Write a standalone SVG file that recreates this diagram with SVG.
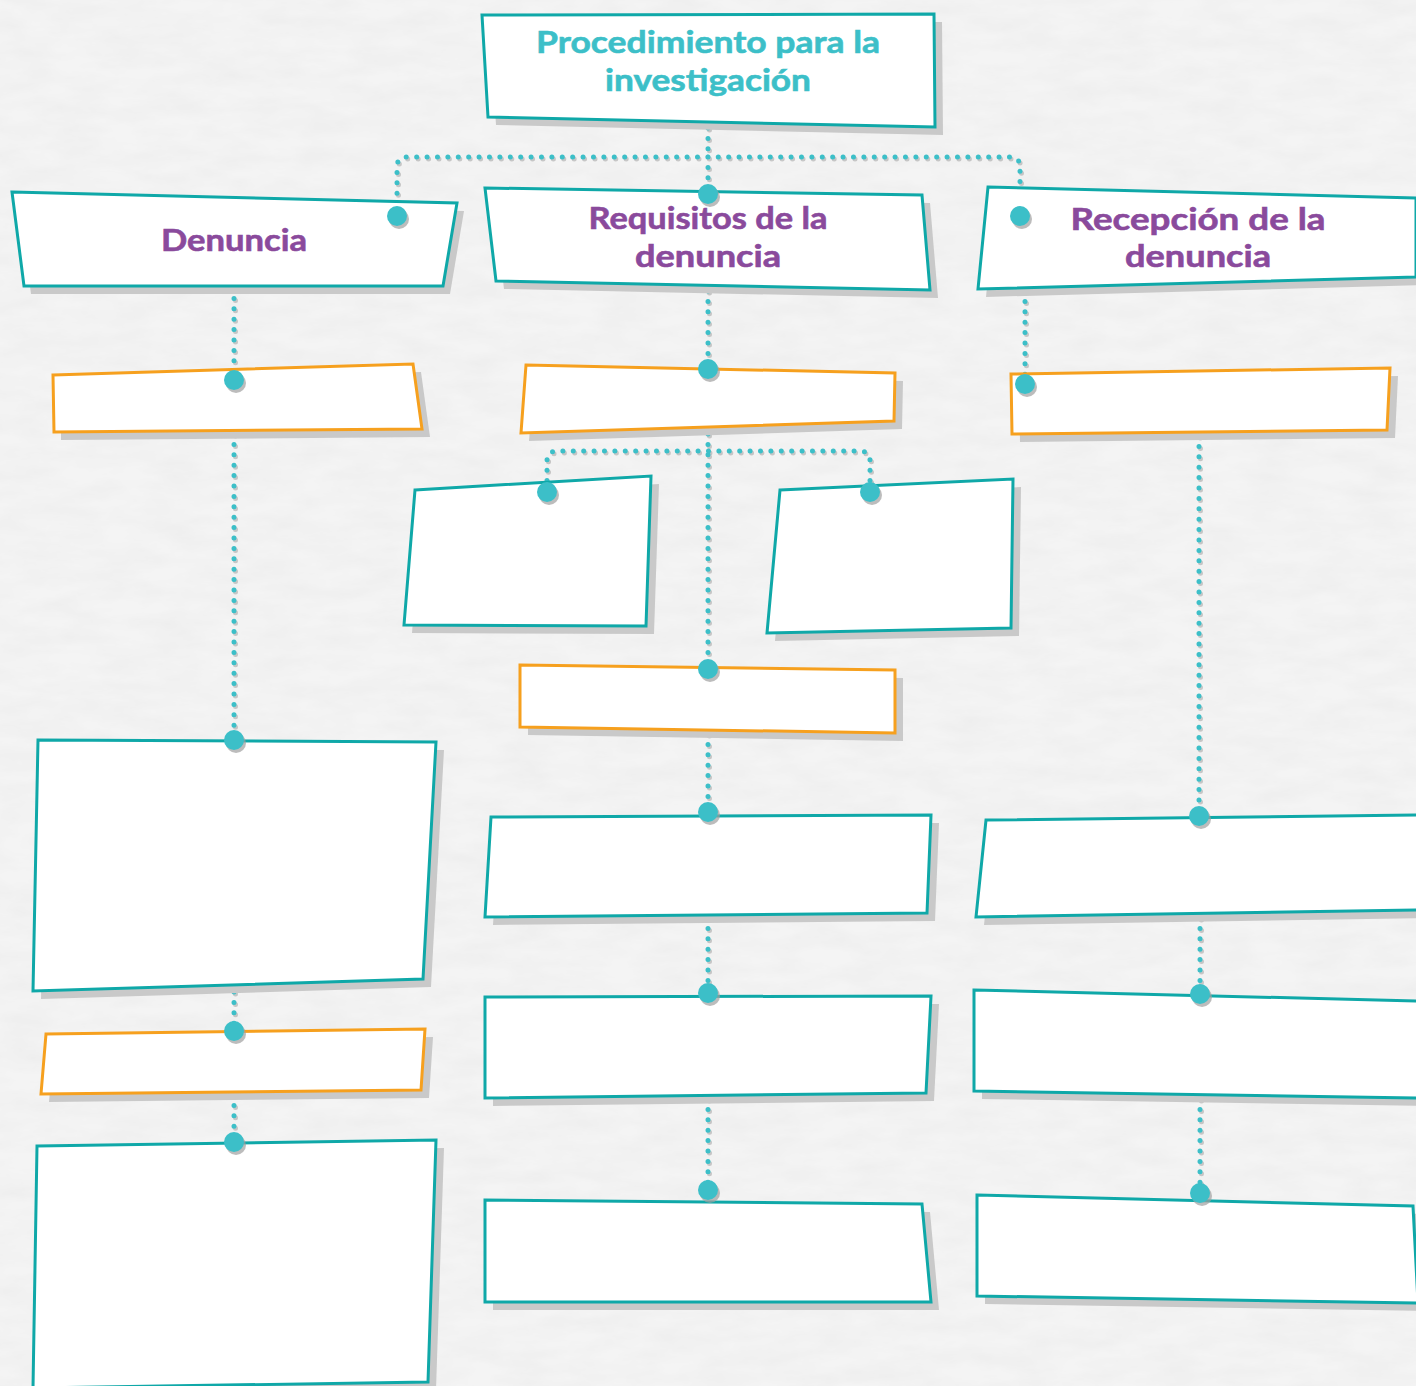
<svg xmlns="http://www.w3.org/2000/svg" width="1416" height="1386" viewBox="0 0 1416 1386">
  <defs>
    <filter id="paper" x="0" y="0" width="100%" height="100%">
      <feTurbulence type="fractalNoise" baseFrequency="0.02 0.06" numOctaves="4" seed="7" result="n"/>
      <feColorMatrix in="n" type="matrix" values="0 0 0 0 0.6  0 0 0 0 0.6  0 0 0 0 0.6  0 0 0 0.22 -0.06"/>
    </filter>
    <style>
      .bg { fill: #f4f4f4; }
      .shadow { fill: #c9c9c9; }
      .card { fill: #ffffff; stroke: #0fa8a8; stroke-width: 3; stroke-linejoin: miter; }
      .note { fill: #ffffff; stroke: #f6a01e; stroke-width: 3; stroke-linejoin: miter; }
      .title { font-family: Lato, "Open Sans", "Liberation Sans", sans-serif; font-weight: 700; font-size: 31px; fill: #3cbfc8; text-anchor: middle; stroke: #3cbfc8; stroke-width: 0.6; }
      .head { font-family: Lato, "Open Sans", "Liberation Sans", sans-serif; font-weight: 700; font-size: 31px; fill: #8a4a9c; text-anchor: middle; stroke: #8a4a9c; stroke-width: 0.6; }
      .dotline { fill: none; stroke: #3cbfc8; stroke-width: 5; stroke-linecap: round; stroke-dasharray: 0 10.4; }
      .dotshadow { fill: none; stroke: #a9a9a9; stroke-width: 5; stroke-linecap: round; stroke-dasharray: 0 10.4; opacity: 0.6; }
      .pin { fill: #3cbfc8; }
      .pinshadow { fill: #9f9f9f; opacity: 0.7; }
    </style>
  </defs>

  <rect class="bg" x="0" y="0" width="1416" height="1386"/>
  <rect x="0" y="0" width="1416" height="1386" filter="url(#paper)"/>

  <g id="connectors">
    <g transform="translate(1.5,2)">
      <path class="dotshadow" d="M708,128 V157 M397,214 V167 Q397,157 407,157 H1010 Q1020,157 1020,167 V214 M708,157 V192"/>
      <path class="dotshadow" d="M234,288 V378 M234,434 V738 M234,992 V1030 M234,1095 V1141"/>
      <path class="dotshadow" d="M708,291 V368 M708,434 V668 M547,491 V461 Q547,451 557,451 H860 Q870,451 870,461 V491 M708,734 V811 M708,918 V992 M708,1099 V1189"/>
      <path class="dotshadow" d="M1025,291 V383 M1199,436 V815 M1200,918 V992 M1200,1099 V1192"/>
    </g>
    <path class="dotline" d="M708,128 V157 M397,214 V167 Q397,157 407,157 H1010 Q1020,157 1020,167 V214 M708,157 V192"/>
    <path class="dotline" d="M234,288 V378 M234,434 V738 M234,992 V1030 M234,1095 V1141"/>
    <path class="dotline" d="M708,291 V368 M708,434 V668 M547,491 V461 Q547,451 557,451 H860 Q870,451 870,461 V491 M708,734 V811 M708,918 V992 M708,1099 V1189"/>
    <path class="dotline" d="M1025,291 V383 M1199,436 V815 M1200,918 V992 M1200,1099 V1192"/>
  </g>

  <g id="node-title">
    <polygon class="shadow" points="490,23 942,22 943,135 496,125"/>
    <polygon class="card" points="482,15 934,14 935,127 488,117"/>
    <text class="title" x="708" y="53" textLength="344" lengthAdjust="spacingAndGlyphs">Procedimiento para la</text>
    <text class="title" x="708" y="91" textLength="206" lengthAdjust="spacingAndGlyphs">investigación</text>
  </g>

  <g id="node-denuncia">
    <polygon class="shadow" points="19,200 464,211 450,294 31,294"/>
    <polygon class="card" points="12,192 457,203 443,286 24,286"/>
    <text class="head" x="234" y="251" textLength="146" lengthAdjust="spacingAndGlyphs">Denuncia</text>
  </g>

  <g id="node-requisitos">
    <polygon class="shadow" points="493,196 930,203 938,298 504,289"/>
    <polygon class="card" points="485,188 922,195 930,290 496,281"/>
    <text class="head" x="708" y="229" textLength="239" lengthAdjust="spacingAndGlyphs">Requisitos de la</text>
    <text class="head" x="708" y="267" textLength="146" lengthAdjust="spacingAndGlyphs">denuncia</text>
  </g>

  <g id="node-recepcion">
    <polygon class="shadow" points="996,195 1424,206 1424,285 986,297"/>
    <polygon class="card" points="988,187 1416,198 1416,277 978,289"/>
    <text class="head" x="1198" y="230" textLength="255" lengthAdjust="spacingAndGlyphs">Recepción de la</text>
    <text class="head" x="1198" y="267" textLength="146" lengthAdjust="spacingAndGlyphs">denuncia</text>
  </g>

  <g id="node-left-1">
    <polygon class="shadow" points="61,383 421,372 430,437 61,440"/>
    <polygon class="note" points="53,375 413,364 422,429 54,432"/>
  </g>

  <g id="node-left-2">
    <polygon class="shadow" points="46,748 444,750 431,987 41,999"/>
    <polygon class="card" points="38,740 436,742 423,979 33,991"/>
  </g>

  <g id="node-left-3">
    <polygon class="shadow" points="54,1042 433,1037 429,1098 49,1102"/>
    <polygon class="note" points="46,1034 425,1029 421,1090 41,1094"/>
  </g>

  <g id="node-left-4">
    <polygon class="shadow" points="45,1154 444,1148 436,1390 41,1394"/>
    <polygon class="card" points="37,1146 436,1140 428,1382 33,1388"/>
  </g>

  <g id="node-mid-1">
    <polygon class="shadow" points="534,373 903,381 902,429 529,441"/>
    <polygon class="note" points="526,365 895,373 894,421 521,433"/>
  </g>

  <g id="node-mid-2a">
    <polygon class="shadow" points="423,498 659,484 654,634 412,633"/>
    <polygon class="card" points="415,490 651,476 646,626 404,625"/>
  </g>

  <g id="node-mid-2b">
    <polygon class="shadow" points="788,498 1021,487 1019,636 775,641"/>
    <polygon class="card" points="780,490 1013,479 1011,628 767,633"/>
  </g>

  <g id="node-mid-3">
    <polygon class="shadow" points="528,673 903,678 903,741 528,735"/>
    <polygon class="note" points="520,665 895,670 895,733 520,727"/>
  </g>

  <g id="node-mid-4">
    <polygon class="shadow" points="499,825 939,823 935,921 493,925"/>
    <polygon class="card" points="491,817 931,815 927,913 485,917"/>
  </g>

  <g id="node-mid-5">
    <polygon class="shadow" points="493,1005 939,1004 934,1101 493,1106"/>
    <polygon class="card" points="485,997 931,996 926,1093 485,1098"/>
  </g>

  <g id="node-mid-6">
    <polygon class="shadow" points="493,1208 930,1212 939,1310 493,1310"/>
    <polygon class="card" points="485,1200 922,1204 931,1302 485,1302"/>
  </g>

  <g id="node-right-1">
    <polygon class="shadow" points="1019,382 1398,376 1395,438 1020,442"/>
    <polygon class="note" points="1011,374 1390,368 1387,430 1012,434"/>
  </g>

  <g id="node-right-2">
    <polygon class="shadow" points="994,828 1424,823 1424,918 984,925"/>
    <polygon class="card" points="986,820 1418,815 1418,910 976,917"/>
  </g>

  <g id="node-right-3">
    <polygon class="shadow" points="982,998 1424,1009 1424,1106 982,1099"/>
    <polygon class="card" points="974,990 1418,1001 1418,1098 974,1091"/>
  </g>

  <g id="node-right-4">
    <polygon class="shadow" points="985,1203 1421,1214 1424,1311 985,1304"/>
    <polygon class="card" points="977,1195 1413,1206 1418,1303 977,1296"/>
  </g>

  <g id="pins">
    <g transform="translate(2,3)">
      <circle class="pinshadow" cx="708" cy="194" r="10"/>
      <circle class="pinshadow" cx="397" cy="216" r="10"/>
      <circle class="pinshadow" cx="1020" cy="216" r="10"/>
      <circle class="pinshadow" cx="234" cy="380" r="10"/>
      <circle class="pinshadow" cx="708" cy="369" r="10"/>
      <circle class="pinshadow" cx="1025" cy="384" r="10"/>
      <circle class="pinshadow" cx="547" cy="492" r="10"/>
      <circle class="pinshadow" cx="870" cy="492" r="10"/>
      <circle class="pinshadow" cx="708" cy="669" r="10"/>
      <circle class="pinshadow" cx="234" cy="740" r="10"/>
      <circle class="pinshadow" cx="708" cy="812" r="10"/>
      <circle class="pinshadow" cx="1199" cy="816" r="10"/>
      <circle class="pinshadow" cx="708" cy="993" r="10"/>
      <circle class="pinshadow" cx="1200" cy="994" r="10"/>
      <circle class="pinshadow" cx="234" cy="1031" r="10"/>
      <circle class="pinshadow" cx="234" cy="1142" r="10"/>
      <circle class="pinshadow" cx="708" cy="1190" r="10"/>
      <circle class="pinshadow" cx="1200" cy="1193" r="10"/>
    </g>
    <circle class="pin" cx="708" cy="194" r="10"/>
    <circle class="pin" cx="397" cy="216" r="10"/>
    <circle class="pin" cx="1020" cy="216" r="10"/>
    <circle class="pin" cx="234" cy="380" r="10"/>
    <circle class="pin" cx="708" cy="369" r="10"/>
    <circle class="pin" cx="1025" cy="384" r="10"/>
    <circle class="pin" cx="547" cy="492" r="10"/>
    <circle class="pin" cx="870" cy="492" r="10"/>
    <circle class="pin" cx="708" cy="669" r="10"/>
    <circle class="pin" cx="234" cy="740" r="10"/>
    <circle class="pin" cx="708" cy="812" r="10"/>
    <circle class="pin" cx="1199" cy="816" r="10"/>
    <circle class="pin" cx="708" cy="993" r="10"/>
    <circle class="pin" cx="1200" cy="994" r="10"/>
    <circle class="pin" cx="234" cy="1031" r="10"/>
    <circle class="pin" cx="234" cy="1142" r="10"/>
    <circle class="pin" cx="708" cy="1190" r="10"/>
    <circle class="pin" cx="1200" cy="1193" r="10"/>
  </g>
</svg>
